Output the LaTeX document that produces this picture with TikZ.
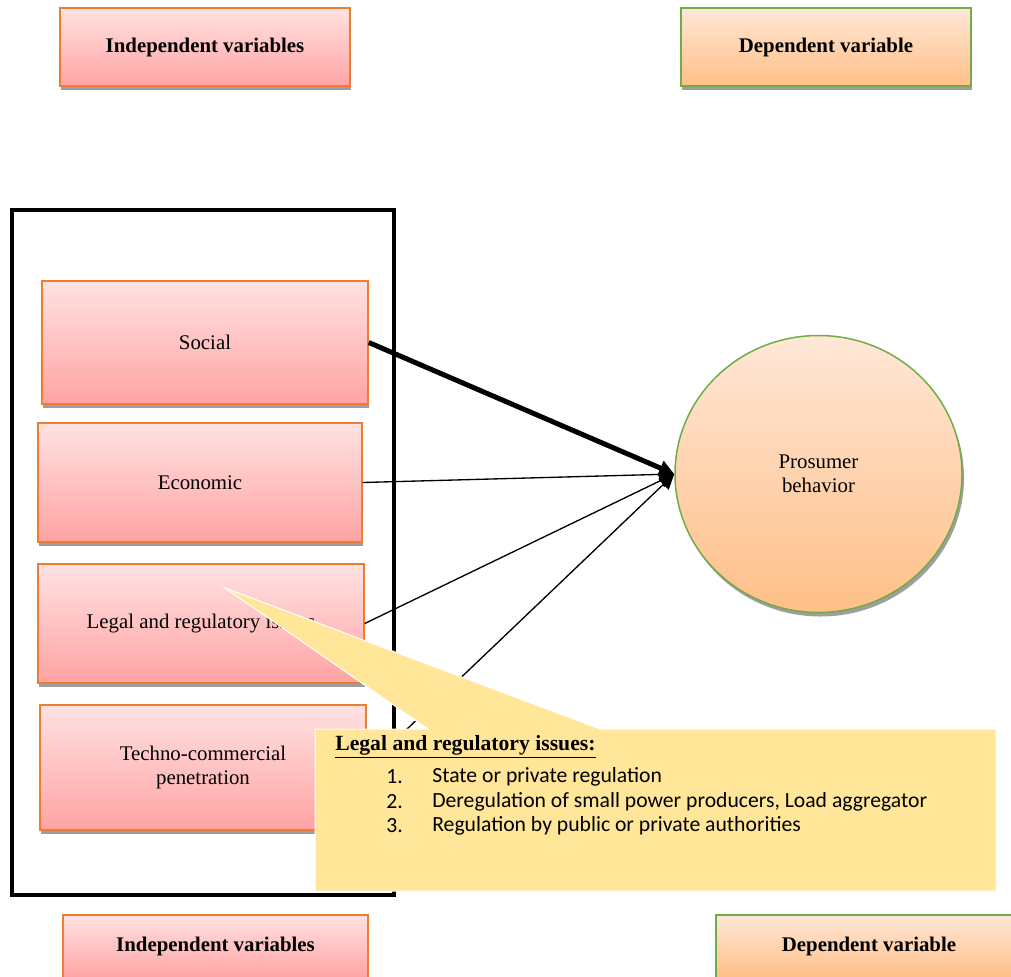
\documentclass[tikz,border=0pt]{standalone}
\usepackage{fontspec}
\setmainfont{Liberation Serif}
\newfontfamily\calibrifont{Carlito}
\usetikzlibrary{shapes.geometric,shadows,arrows.meta}

\definecolor{boxorange}{HTML}{ED7D31}
\definecolor{boxgreen}{HTML}{70AD47}
\definecolor{pinktop}{HTML}{FFE2E2}
\definecolor{pinkbot}{HTML}{FFA3A3}
\definecolor{peachtop}{HTML}{FFE7D7}
\definecolor{peachbot}{HTML}{FFBF87}
\definecolor{noteyellow}{HTML}{FFE699}

\tikzstyle{boxshadow}=[drop shadow={shadow xshift=0.6pt,shadow yshift=-2.4pt,fill=black!38,opacity=1}]
\tikzstyle{indbox}=[rectangle,draw=boxorange,line width=0.9pt,top color=pinktop,bottom color=pinkbot,boxshadow,inner sep=0pt,align=center,font=\fontsize{12.5}{14.5}\selectfont]
\tikzstyle{depbox}=[indbox,draw=boxgreen,top color=peachtop,bottom color=peachbot]
\tikzstyle{link} = [draw,line width=0.8pt,-{Triangle[length=9pt,width=9pt]}]
\tikzstyle{notetext}=[inner sep=0pt,anchor=west,font=\calibrifont\fontsize{13}{15}\selectfont]

\begin{document}
\begin{tikzpicture}[x=0.6pt,y=-0.6pt]
	\useasboundingbox (0,0) rectangle (1011,976);
	\clip (0,0) rectangle (1011,976);
			% legend boxes
			\node[indbox,minimum width=174pt,minimum height=46.8pt,font=\bfseries\fontsize{12.5}{14.5}\selectfont] (indtop) at (205,47) {Independent variables};
			\node[depbox,minimum width=174pt,minimum height=46.8pt,font=\bfseries\fontsize{12.5}{14.5}\selectfont] (deptop) at (826,47) {Dependent variable};
			\node[indbox,minimum width=183pt,minimum height=37.8pt,font=\bfseries\fontsize{12.5}{14.5}\selectfont] (indbot) at (215.5,946.5) {Independent variables};
			\node[depbox,minimum width=183.6pt,minimum height=37.8pt,font=\bfseries\fontsize{12.5}{14.5}\selectfont] (depbot) at (869,946.5) {Dependent variable};
			% independent variables
			\node[indbox,minimum width=195.6pt,minimum height=73.8pt] (social) at (205,342.5) {Social};
			\node[indbox,minimum width=194.4pt,minimum height=71.4pt] (economic) at (200,482.5) {Economic};
			\node[indbox,minimum width=195.6pt,minimum height=71.4pt] (legal) at (201,623.5) {Legal and regulatory issues};
			\node[indbox,minimum width=195.6pt,minimum height=75pt] (techno) at (203,767.5) {Techno-commercial\\penetration};
			% dependent variable
			\node[ellipse,draw=boxgreen,line width=0.9pt,top color=peachtop,bottom color=peachbot,
				drop shadow={shadow xshift=1.2pt,shadow yshift=-2.4pt,fill=black!38,opacity=1},
				minimum width=172.2pt,minimum height=166.2pt,inner sep=0pt,align=center,
				font=\fontsize{12.5}{14.5}\selectfont] (prosumer) at (818.5,474) {Prosumer\\behavior};
			% frame round the independent variables
			\draw[line width=2.4pt] (12,210) rectangle (394,895);
			% Connect variables with the behavior
			\path[link,line width=3pt] (social.east) -- (prosumer.west);
			\foreach \source in {economic, legal, techno}
				\path[link] (\source.east) -- (prosumer.west);
			% callout
			\coordinate (notetip) at (225,588);
			\path[fill=noteyellow,draw=white,line width=0.6pt] (315,729) -- (428,729) -- (notetip) -- (600,729) -- (996,729) -- (996,891) -- (315,891) -- cycle;
			\node[notetext,font=\bfseries\fontsize{13}{15}\selectfont] (notehead) at (335,747) {\underline{Legal and regulatory issues:}};
			\foreach \i/\item in {1/State or private regulation, 2/{Deregulation of small power producers, Load aggregator}, 3/Regulation by public or private authorities}
			{
				\node[notetext] (num\i) at (386,{777+(\i-1)*24.5}) {\i.};
				\node[notetext] (item\i) at (432,{777+(\i-1)*24.5}) {\item};
			}
\end{tikzpicture}
\end{document}
